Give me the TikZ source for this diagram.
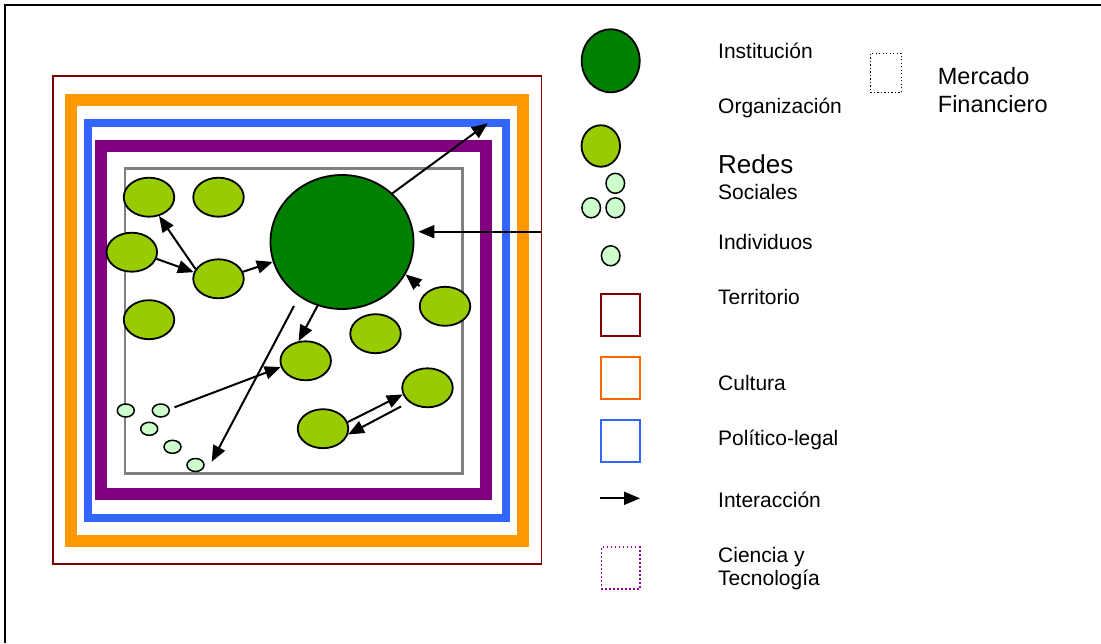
\documentclass[tikz,border=0pt]{standalone}
\usepackage{fontspec}
\setmainfont{Liberation Sans}
\usepackage{tikz}
\usetikzlibrary{arrows.meta,shapes.geometric,positioning}
\definecolor{dkgreen}{RGB}{0,128,0}
\definecolor{ltgreen}{RGB}{153,204,0}
\definecolor{palegreen}{RGB}{204,255,204}
\definecolor{terrred}{RGB}{128,0,0}
\definecolor{cultorange}{RGB}{255,153,0}
\definecolor{legorange}{RGB}{255,102,0}
\definecolor{polblue}{RGB}{51,102,255}
\definecolor{cienpurple}{RGB}{128,0,128}
\definecolor{legpurple}{RGB}{153,0,153}
\tikzset{
    %Define standard arrow tip
    >={Triangle[length=16pt,width=13pt]},
    %Define style for the institution
    inst/.style={
           ellipse,
           draw=black, line width=1.8pt,
           inner sep=0pt,
           minimum width=143pt,
           minimum height=134pt,
           fill=dkgreen},
    %Define style for organisations
    org/.style={
           ellipse,
           draw=black, line width=1.8pt,
           inner sep=0pt,
           minimum width=50.5pt,
           minimum height=39pt,
           fill=ltgreen},
    %Define style for individuals
    indiv/.style={
           ellipse,
           draw=black, line width=1.5pt,
           inner sep=0pt,
           minimum width=17pt,
           minimum height=13pt,
           fill=palegreen},
    %Define style for legend squares
    legbox/.style={
           rectangle,
           line width=1.8pt,
           inner sep=0pt,
           minimum width=38.5pt,
           minimum height=42pt},
    %Define style for legend texts
    leyenda/.style={
           anchor=base west,
           inner sep=0pt,
           font=\fontsize{21}{23}\selectfont},
    % Define arrow style
    pil/.style={
           ->,
           line width=2pt}
}
\begin{document}
\begin{tikzpicture}[x=1pt,y=-1pt]
\useasboundingbox (0,0) rectangle (1101,643);
\draw[line width=2pt] (5,643) -- (5,5) -- (1101,5);

% frames
\draw[terrred, line width=1.6pt] (52.7,75.7) rectangle (541.3,564);
\draw[cultorange, line width=11.7pt] (70.8,99.8) rectangle (523.2,540.8);
\draw[polblue, line width=8pt] (88.3,122.8) rectangle (506,517.8);
\draw[cienpurple, line width=12pt] (101.3,145.8) rectangle (485.8,494.2);
\draw[gray, line width=2.5pt] (125,168.3) rectangle (462.3,473.3);

% actors
\node[inst](inst) at (342,242) {};
\node[org](o1) at (149,197.2) {};
\node[org](o2) at (218.5,197.2) {};
\node[org](o3) at (131.8,252.2) {};
\node[org](o4) at (218.5,278.8) {};
\node[org](o5) at (149,319.7) {};
\node[org](o6) at (445,306.3) {};
\node[org](o7) at (375.5,333.7) {};
\node[org](o8) at (305.7,360.8) {};
\node[org](o9) at (427.5,387.8) {};
\node[org](o10) at (323,428.7) {};
\node[indiv](i1) at (125.8,410.5) {};
\node[indiv](i2) at (160.8,410.5) {};
\node[indiv](i3) at (149.2,428.8) {};
\node[indiv](i4) at (172.5,446.8) {};
\node[indiv](i5) at (195.5,465) {};
\coordinate (entrada) at (541.3,231.7);
\coordinate (finsalida) at (487.7,123.3);
\coordinate (bajada) at (294,306);
\coordinate (llegada) at (211.7,461.7);

\path[pil]
	(o4.16) edge (inst.196)
	(o3.345) edge (o4.165)
	(o4.157) edge (o1.298)
	(inst.44) edge (finsalida)
	(entrada) edge[shorten >=4pt] (inst.east |- entrada)
	(o6.142) edge[shorten <=9pt] (inst.333)
	(inst.249) edge (o8.110)
	(i2.9) edge[shorten <=5pt] (o8.194)
	(bajada) edge (llegada)
	(o10.15) edge (o9.195)
	(o9.218) edge[shorten <=9pt] (o10.347);

% legend
\node[inst, minimum width=58pt, minimum height=63pt](leginst) at (610.7,60.8) {};
\node[org, minimum width=38.5pt, minimum height=41.5pt](legorg) at (600.8,146) {};
\node[indiv, minimum width=18.6pt, minimum height=20pt](legred1) at (615.3,183.3) {};
\node[indiv, minimum width=18.6pt, minimum height=20pt](legred2) at (591.2,207.8) {};
\node[indiv, minimum width=18.6pt, minimum height=20pt](legred3) at (615.3,207.8) {};
\node[indiv, minimum width=18.6pt, minimum height=20pt](legind) at (610.7,255.8) {};
\node[legbox, draw=terrred](legterr) at (620.5,315.3) {};
\node[legbox, draw=legorange](legcult) at (620.5,378.3) {};
\node[legbox, draw=polblue](legpol) at (620.5,441.3) {};
\node[legbox, draw=legpurple, line width=1.5pt, dash pattern=on 1.5pt off 2.5pt](legcien) at (620.5,568) {};
\node[legbox, draw=black, line width=1.2pt, dash pattern=on 1.2pt off 2.3pt, minimum width=31pt, minimum height=39pt](legmf) at (885.8,72.8) {};
\coordinate (lega) at (600.3,498.3);
\coordinate (legb) at (640,498.3);
\draw[pil] (lega) -- (legb);

\node[leyenda](tinst) at (718,58) {Institución};
\node[leyenda](torg) at (718,113) {Organización};
\node[leyenda, font=\fontsize{26}{28}\selectfont](tredes) at (718,173.5) {Redes};
\node[leyenda](tsoc) at (718,199) {Sociales};
\node[leyenda](tind) at (718,249) {Individuos};
\node[leyenda](tterr) at (718,304) {Territorio};
\node[leyenda](tcult) at (718,390) {Cultura};
\node[leyenda](tpol) at (718,445) {Político-legal};
\node[leyenda](tint) at (718,507) {Interacción};
\node[leyenda](tcien1) at (718,562) {Ciencia y};
\node[leyenda](tcien2) at (718,585) {Tecnología};
\node[leyenda, font=\fontsize{23.5}{28}\selectfont](tmf1) at (937.7,84) {Mercado};
\node[leyenda, font=\fontsize{23.5}{28}\selectfont](tmf2) at (937.7,112) {Financiero};
\end{tikzpicture}
\end{document}
